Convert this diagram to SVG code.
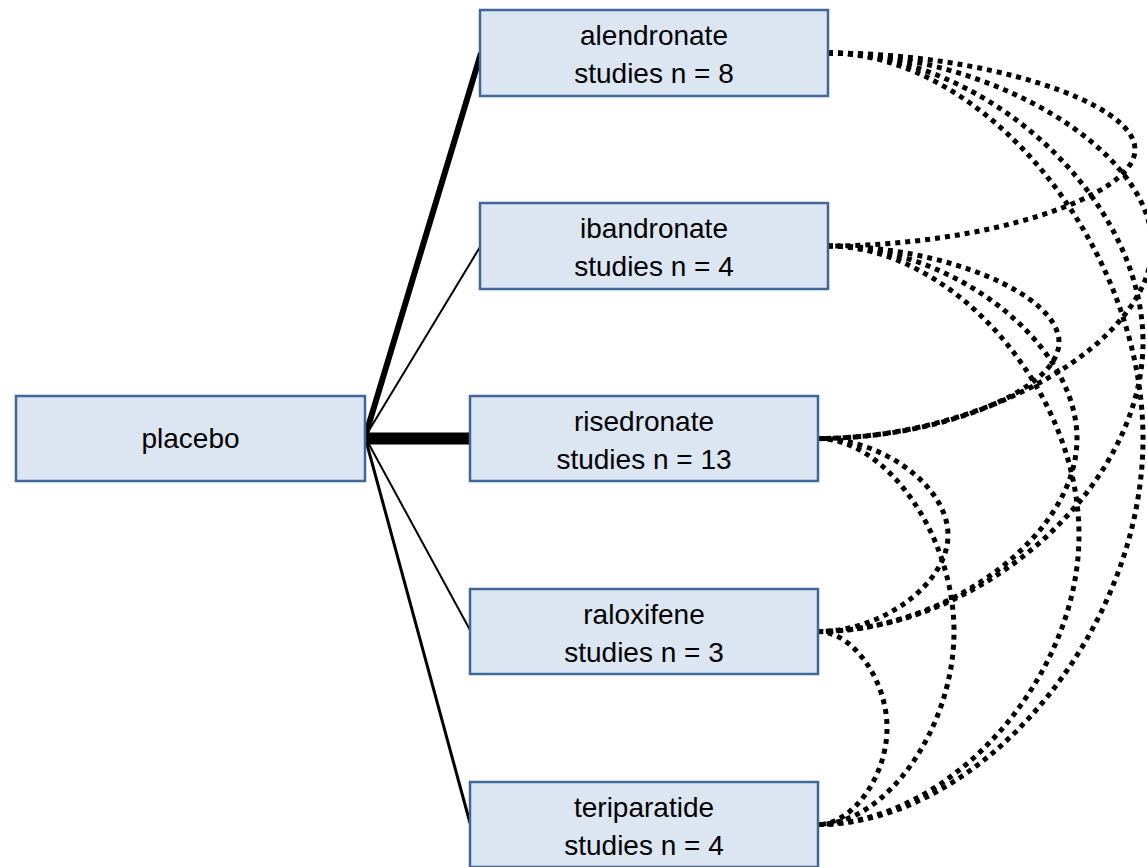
<svg xmlns="http://www.w3.org/2000/svg" width="1147" height="867" viewBox="0 0 1147 867">
<style>
.box{fill:#dce6f2;stroke:#41669a;stroke-width:2.5}
.lbl{font-family:"Liberation Sans",Arial,sans-serif;font-size:28px;fill:#000;text-anchor:middle}
.solid{stroke:#000;fill:none;stroke-linecap:butt}
.dot{stroke:#000;fill:none;stroke-width:5;stroke-dasharray:5 5}
</style>
<rect width="1147" height="867" fill="#fff"/>
<g id="connectors">
<line class="solid" x1="365" y1="437" x2="481" y2="53" stroke-width="6"/>
<line class="solid" x1="365" y1="437" x2="480" y2="247" stroke-width="2"/>
<line class="solid" x1="365" y1="438.5" x2="470" y2="438.5" stroke-width="12"/>
<line class="solid" x1="365" y1="437" x2="470" y2="630" stroke-width="2"/>
<line class="solid" x1="365" y1="437" x2="470" y2="823" stroke-width="3"/>
<path class="dot" d="M828,53 C981.5,53 1135,101.25 1135,149.5 C1135,197.75 981.5,246 828,246"/>
<path class="dot" d="M828,53 C990,53 1152,149.4 1152,245.75 C1152,342.1 985,438.5 818,438.5"/>
<path class="dot" d="M828,53 C985.5,53 1143,197.6 1143,342.25 C1143,486.9 980.5,631.5 818,631.5"/>
<path class="dot" d="M828,53 C985.5,53 1143,245.9 1143,438.75 C1143,631.6 980.5,824.5 818,824.5"/>
<path class="dot" d="M828,246 C943.5,246 1059,294.1 1059,342.25 C1059,390.4 938.5,438.5 818,438.5"/>
<path class="dot" d="M828,246 C952.5,246 1077,342.4 1077,438.75 C1077,535.1 947.5,631.5 818,631.5"/>
<path class="dot" d="M828,246 C953.5,246 1079,390.6 1079,535.25 C1079,679.9 948.5,824.5 818,824.5"/>
<path class="dot" d="M818,438.5 C883,438.5 948,486.75 948,535 C948,583.25 883,631.5 818,631.5"/>
<path class="dot" d="M818,438.5 C886,438.5 954,535 954,631.5 C954,728 886,824.5 818,824.5"/>
<path class="dot" d="M818,631.5 C852.5,631.5 887,679.75 887,728 C887,776.25 852.5,824.5 818,824.5"/>
</g>
<g id="placebo">
<rect class="box" x="16" y="396" width="349" height="85"/>
<text class="lbl" x="190.5" y="448">placebo</text>
</g>
<g id="alendronate">
<rect class="box" x="480" y="10" width="348" height="86"/>
<text class="lbl" x="654" y="45">alendronate</text>
<text class="lbl" x="654" y="83">studies n = 8</text>
</g>
<g id="ibandronate">
<rect class="box" x="480" y="203" width="348" height="86"/>
<text class="lbl" x="654" y="238">ibandronate</text>
<text class="lbl" x="654" y="276">studies n = 4</text>
</g>
<g id="risedronate">
<rect class="box" x="470" y="396" width="348" height="85"/>
<text class="lbl" x="644" y="431">risedronate</text>
<text class="lbl" x="644" y="469">studies n = 13</text>
</g>
<g id="raloxifene">
<rect class="box" x="470" y="589" width="348" height="85"/>
<text class="lbl" x="644" y="624">raloxifene</text>
<text class="lbl" x="644" y="662">studies n = 3</text>
</g>
<g id="teriparatide">
<rect class="box" x="470" y="782" width="348" height="85"/>
<text class="lbl" x="644" y="817">teriparatide</text>
<text class="lbl" x="644" y="855">studies n = 4</text>
</g>
</svg>
